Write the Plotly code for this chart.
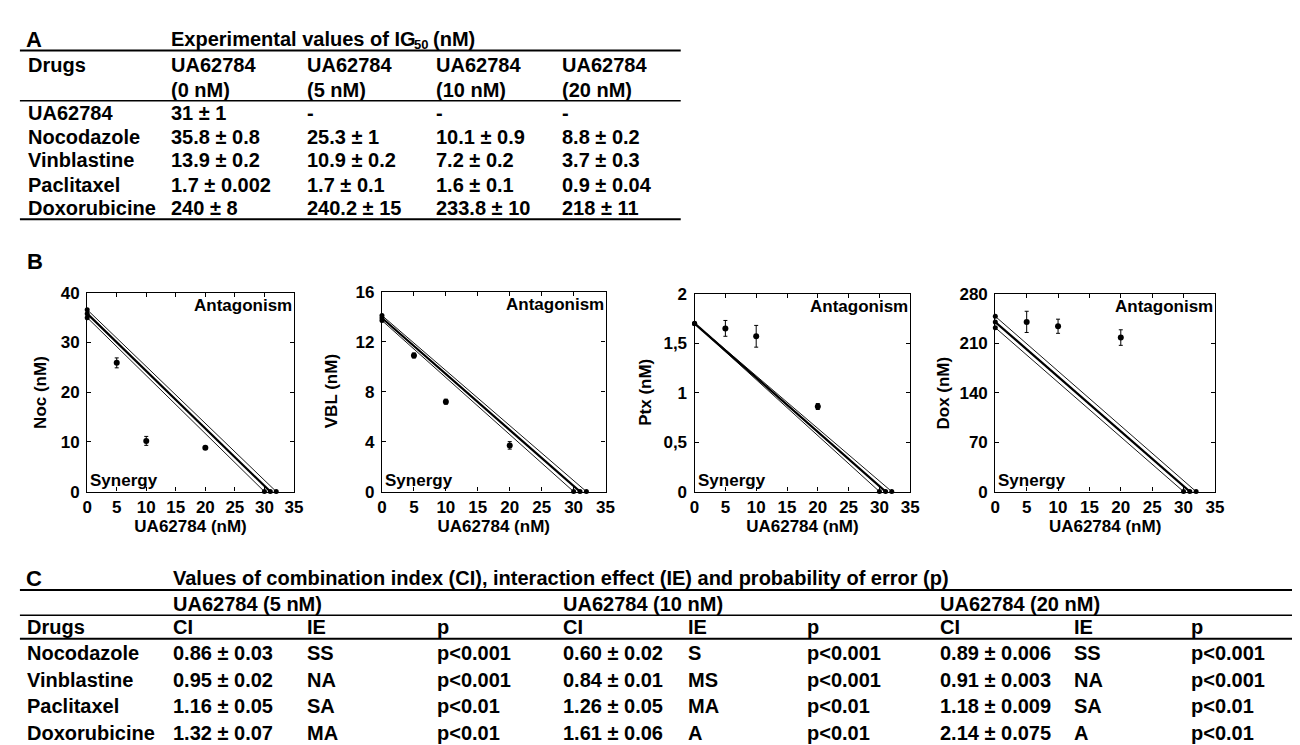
import plotly.graph_objects as go

W, H = 1300, 745
FONT = "Liberation Sans, Arial, sans-serif"

# ---------------- Panel A table data ----------------
tableA_title = ["Experimental values of IG", "50", "(nM)"]
tableA_head = ["UA62784", "UA62784", "UA62784", "UA62784"]
tableA_doses = ["(0 nM)", "(5 nM)", "(10 nM)", "(20 nM)"]
tableA_drugs = ["UA62784", "Nocodazole", "Vinblastine", "Paclitaxel", "Doxorubicine"]
tableA_vals = [
    ["31 ± 1", "-", "-", "-"],
    ["35.8 ± 0.8", "25.3 ± 1", "10.1 ± 0.9", "8.8 ± 0.2"],
    ["13.9 ± 0.2", "10.9 ± 0.2", "7.2 ± 0.2", "3.7 ± 0.3"],
    ["1.7 ± 0.002", "1.7 ± 0.1", "1.6 ± 0.1", "0.9 ± 0.04"],
    ["240 ± 8", "240.2 ± 15", "233.8 ± 10", "218 ± 11"],
]

# ---------------- Panel B plot data ----------------
ua_combo = [5, 10, 20]
ua_ig50_bounds = [30, 31, 32]  # UA62784 IG50 (mean - sd, mean, mean + sd)

noc_alone = [35.0, 35.8, 36.6]
noc_combo = [25.9, 10.2, 8.8]
noc_err = [1.0, 0.9, 0.2]

vbl_alone = [13.7, 13.9, 14.1]
vbl_combo = [10.9, 7.2, 3.7]
vbl_err = [0.2, 0.2, 0.3]

ptx_alone = [1.698, 1.7, 1.702]
ptx_combo = [1.65, 1.57, 0.86]
ptx_err = [0.08, 0.11, 0.03]

dox_alone = [232, 240, 248]
dox_combo = [240.2, 234, 218]
dox_err = [15, 10, 11]

y_titles = ["Noc (nM)", "VBL (nM)", "Ptx (nM)", "Dox (nM)"]
x_title = "UA62784 (nM)"
x_ticks = [0, 5, 10, 15, 20, 25, 30, 35]
noc_ticks = [0, 10, 20, 30, 40]
vbl_ticks = [0, 4, 8, 12, 16]
ptx_ticks = [0, 0.5, 1, 1.5, 2]
ptx_ticktext = ["0", "0,5", "1", "1,5", "2"]
dox_ticks = [0, 70, 140, 210, 280]

# ---------------- Panel C table data ----------------
tableC_title = "Values of combination index (CI), interaction effect (IE) and probability of error (p)"
tableC_groups = ["UA62784 (5 nM)", "UA62784 (10 nM)", "UA62784 (20 nM)"]
tableC_cols = ["CI", "IE", "p"]
tableC_drugs = ["Nocodazole", "Vinblastine", "Paclitaxel", "Doxorubicine"]
ci_5 = ["0.86 ± 0.03", "0.95 ± 0.02", "1.16 ± 0.05", "1.32 ± 0.07"]
ie_5 = ["SS", "NA", "SA", "MA"]
p_5 = ["p<0.001", "p<0.001", "p<0.01", "p<0.01"]
ci_10 = ["0.60 ± 0.02", "0.84 ± 0.01", "1.26 ± 0.05", "1.61 ± 0.06"]
ie_10 = ["S", "MS", "MA", "A"]
p_10 = ["p<0.001", "p<0.001", "p<0.01", "p<0.01"]
ci_20 = ["0.89 ± 0.006", "0.91 ± 0.003", "1.18 ± 0.009", "2.14 ± 0.075"]
ie_20 = ["SS", "NA", "SA", "A"]
p_20 = ["p<0.001", "p<0.001", "p<0.01", "p<0.01"]


def px(x):
    return x / W


def py(y):
    return 1 - y / H


def esc(s):
    return s.replace("<", "&lt;")


fig = go.Figure()
annotations = []
shapes = []


def text(x, y, s, size=20, xanchor="left", angle=0):
    annotations.append(dict(
        x=px(x), y=py(y), xref="paper", yref="paper", text="<b>" + esc(s) + "</b>",
        showarrow=False, xanchor=xanchor, yanchor="middle", textangle=angle,
        font=dict(family=FONT, size=size, color="black")))


def hline(y, x0, x1, w=2):
    shapes.append(dict(type="line", xref="paper", yref="paper",
                       x0=px(x0), x1=px(x1), y0=py(y), y1=py(y),
                       line=dict(color="black", width=w)))


# ---------------- Table A ----------------
text(11, 23, "A", size=22)
text(158, 23, tableA_title[0])
text(403, 28, tableA_title[1], size=13)
text(423, 23, tableA_title[2])
hline(34.5, 7, 675)
colA = [158, 295, 426, 553]
text(13, 49, "Drugs")
for j in range(4):
    text(colA[j], 49, tableA_head[j])
    text(colA[j], 75, tableA_doses[j])
hline(86, 7, 675, 1.5)
rowA = [99, 123, 147, 172, 196]
for i, d in enumerate(tableA_drugs):
    text(13, rowA[i], d)
    for j in range(4):
        text(colA[j], rowA[i], tableA_vals[i][j])
hline(207.5, 7, 675)

# ---------------- Panel B ----------------
text(12, 251, "B", size=22)
boxes = [(75, 284, 283, 487), (373, 599, 282, 487), (689, 907, 284, 487), (993, 1215, 284, 487)]
ytitle_x = [27, 322, 640, 941]
alones = [noc_alone, vbl_alone, ptx_alone, dox_alone]
combos = [noc_combo, vbl_combo, ptx_combo, dox_combo]
errs = [noc_err, vbl_err, ptx_err, dox_err]
yticks = [noc_ticks, vbl_ticks, ptx_ticks, dox_ticks]
ytext = [[str(v) for v in noc_ticks], [str(v) for v in vbl_ticks], ptx_ticktext, [str(v) for v in dox_ticks]]

axis_common = dict(showline=True, linecolor="black", linewidth=1.2, mirror="ticks",
                   ticks="inside", ticklen=4, tickwidth=1, tickcolor="black",
                   showgrid=False, zeroline=False,
                   tickfont=dict(family=FONT, size=17, color="black", weight="bold"))
layout_axes = {}
for k in range(4):
    sfx = "" if k == 0 else str(k + 1)
    xa, ya = "x" + sfx, "y" + sfx
    for i in range(3):
        fig.add_trace(go.Scatter(
            x=[0, ua_ig50_bounds[i]], y=[alones[k][i], 0], mode="lines+markers",
            line=dict(color="black", width=2.2 if i == 1 else 0.9),
            marker=dict(size=5, color="black"), cliponaxis=False,
            xaxis=xa, yaxis=ya, showlegend=False, hoverinfo="skip"))
    fig.add_trace(go.Scatter(
        x=ua_combo, y=combos[k], mode="markers",
        marker=dict(size=6, color="black"),
        error_y=dict(type="data", array=errs[k], color="black", thickness=1, width=2),
        cliponaxis=False, xaxis=xa, yaxis=ya, showlegend=False))
    x0, x1, y0, y1 = boxes[k]
    layout_axes["xaxis" + sfx] = dict(
        axis_common, domain=[px(x0), px(x1)], range=[0, 35], tickvals=x_ticks,
        anchor=ya, ticklabelstandoff=0,
        title=dict(text=x_title, standoff=3, font=dict(family=FONT, size=17, color="black", weight="bold")))
    layout_axes["yaxis" + sfx] = dict(
        axis_common, domain=[py(y1), py(y0)], range=[0, yticks[k][-1]],
        tickvals=yticks[k], ticktext=ytext[k], anchor=xa, ticklabelstandoff=3)
    text(ytitle_x[k], (y0 + y1) / 2, y_titles[k], size=17, xanchor="center", angle=-90)
    annotations.append(dict(x=1, y=1, xref=xa + " domain", yref=ya + " domain",
                            text="<b>Antagonism</b>", showarrow=False, xanchor="right",
                            yanchor="top", yshift=-1,
                            font=dict(family=FONT, size=17, color="black")))
    annotations.append(dict(x=0, y=0, xref=xa + " domain", yref=ya + " domain",
                            text="<b>Synergy</b>", showarrow=False, xanchor="left",
                            yanchor="bottom", xshift=1,
                            font=dict(family=FONT, size=17, color="black")))

# ---------------- Table C ----------------
text(11, 576, "C", size=22)
text(160, 576, tableC_title)
hline(588, 7, 1296)
grp_x = [160, 554, 935]
for g in range(3):
    text(grp_x[g], 602, tableC_groups[g])
hline(614, 7, 1296, 1.5)
text(12, 626, "Drugs")
colC = [[160, 295, 427], [554, 680, 801], [935, 1071, 1189]]
for g in range(3):
    for c in range(3):
        text(colC[g][c], 626, tableC_cols[c])
hline(638, 7, 1296, 2)
rowC = [653, 680, 707, 735]
groups = [(ci_5, ie_5, p_5), (ci_10, ie_10, p_10), (ci_20, ie_20, p_20)]
for i, d in enumerate(tableC_drugs):
    text(12, rowC[i], d)
    for g in range(3):
        for c in range(3):
            text(colC[g][c], rowC[i], groups[g][c][i])

fig.update_layout(width=W, height=H, margin=dict(l=0, r=0, t=0, b=0),
                  paper_bgcolor="white", plot_bgcolor="white", showlegend=False,
                  annotations=annotations, shapes=shapes, **layout_axes)
fig.write_html("out.html")
